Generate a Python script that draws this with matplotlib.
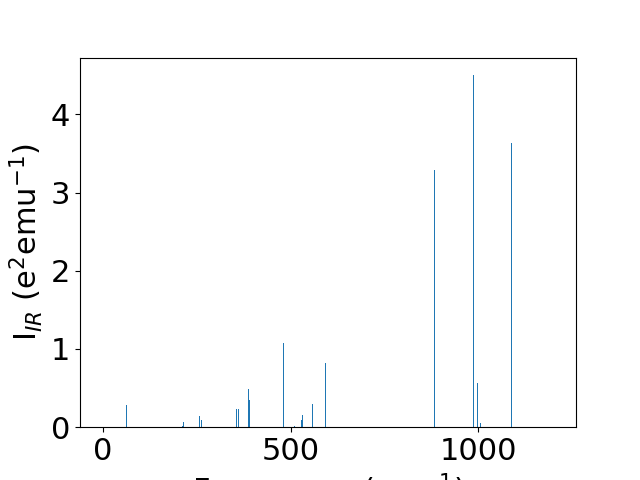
import numpy as np
import matplotlib
matplotlib.use("Agg")
import matplotlib.pyplot as plt

# IR modes: frequency (cm^-1) and intensity (e^2 emu^-1)
freqs = [62, 211, 214, 257, 262, 355, 360, 387, 390, 480, 510, 528, 531,
         558, 593, 883, 987, 997, 1005, 1088]
intens = [0.29, 0.02, 0.07, 0.145, 0.095, 0.235, 0.235, 0.49, 0.35, 1.08,
          0.02, 0.095, 0.16, 0.30, 0.82, 3.29, 4.50, 0.57, 0.055, 3.63]

plt.rcParams['font.size'] = 22

fig, ax = plt.subplots(figsize=(6.4, 4.8), dpi=100)
ax.bar(freqs, intens, width=2.66, color='tab:blue', linewidth=0)
ax.set_xlim(-61, 1260)
ax.set_ylim(0, 4.725)
ax.set_xticks([0, 500, 1000])
ax.set_yticks([0, 1, 2, 3, 4])
ax.set_xlabel("Frequency (cm$^{-1}$)")
ax.set_ylabel("I$_{IR}$ (e$^2$emu$^{-1}$)")

fig.savefig("out.png", dpi=100)
